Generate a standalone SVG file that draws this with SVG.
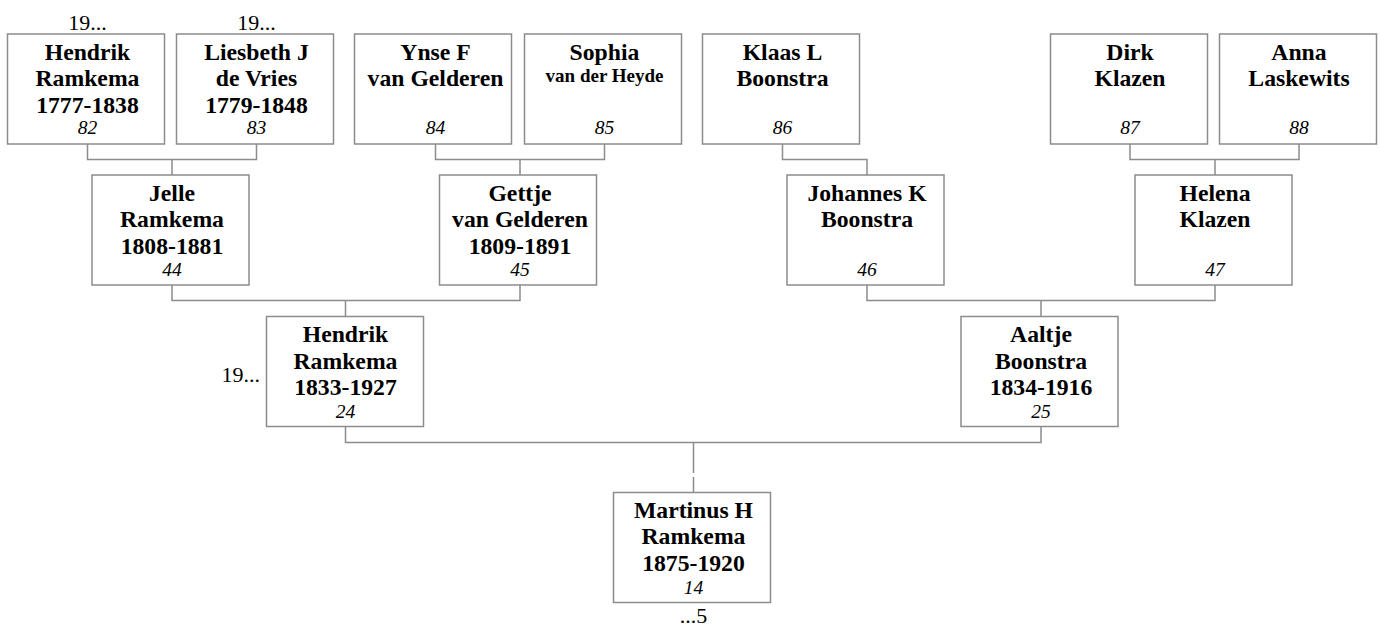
<svg xmlns="http://www.w3.org/2000/svg" width="1380" height="628" viewBox="0 0 1380 628">
<style>
.b{fill:#fff;stroke:#8c8c8c;stroke-width:1.5}
.n{font-family:"Liberation Serif","Times New Roman",serif;font-weight:bold;font-size:23.7px;text-anchor:middle;fill:#000}
.s{font-family:"Liberation Serif","Times New Roman",serif;font-weight:bold;font-size:19px;text-anchor:middle;fill:#000}
.i{font-family:"Liberation Serif","Times New Roman",serif;font-style:italic;font-size:19.5px;text-anchor:middle;fill:#000}
.r{font-family:"Liberation Serif","Times New Roman",serif;font-size:22px;text-anchor:middle;fill:#000}
.c{fill:none;stroke:#8c8c8c;stroke-width:1.5}
</style>
<rect width="1380" height="628" fill="#fff"/>
<g id="connectors">
<path class="c" d="M87.5 144V159.5H256.5V144M172 159.5V175"/>
<path class="c" d="M435.5 144V159.5H604.5V144M520 159.5V175"/>
<path class="c" d="M782.5 144V159.5H867V175"/>
<path class="c" d="M1130 144V159.5H1299V144M1215 159.5V175"/>
<path class="c" d="M172 285V300.5H520V285M345.5 300.5V316.5"/>
<path class="c" d="M867 285V300.5H1215V285M1041 300.5V316.5"/>
<path class="c" d="M345.5 426.5V442.5H1041V426.5M693.5 442.5V473M693.5 477V492.5"/>
</g>
<g id="p82">
<text class="r" x="87.5" y="30">19...</text>
<rect class="b" x="7.5" y="34" width="157" height="110"/>
<text class="n" x="87.5" y="59.5">Hendrik</text>
<text class="n" x="87.5" y="86">Ramkema</text>
<text class="n" x="87.5" y="112.5">1777-1838</text>
<text class="i" x="87.5" y="134">82</text>
</g>
<g id="p83">
<text class="r" x="256.5" y="30">19...</text>
<rect class="b" x="176.5" y="34" width="157" height="110"/>
<text class="n" x="256.5" y="59.5">Liesbeth J</text>
<text class="n" x="256.5" y="86">de Vries</text>
<text class="n" x="256.5" y="112.5">1779-1848</text>
<text class="i" x="256.5" y="134">83</text>
</g>
<g id="p84">
<rect class="b" x="354.5" y="34" width="157" height="110"/>
<text class="n" x="435.5" y="59.5">Ynse F</text>
<text class="n" x="435.5" y="86">van Gelderen</text>
<text class="i" x="435.5" y="134">84</text>
</g>
<g id="p85">
<rect class="b" x="524.5" y="34" width="157" height="110"/>
<text class="n" x="604.5" y="59.5">Sophia</text>
<text class="s" x="604.5" y="82">van der Heyde</text>
<text class="i" x="604.5" y="134">85</text>
</g>
<g id="p86">
<rect class="b" x="702.5" y="34" width="157" height="110"/>
<text class="n" x="782.5" y="59.5">Klaas L</text>
<text class="n" x="782.5" y="86">Boonstra</text>
<text class="i" x="782.5" y="134">86</text>
</g>
<g id="p87">
<rect class="b" x="1050.5" y="34" width="157" height="110"/>
<text class="n" x="1130" y="59.5">Dirk</text>
<text class="n" x="1130" y="86">Klazen</text>
<text class="i" x="1130" y="134">87</text>
</g>
<g id="p88">
<rect class="b" x="1219.5" y="34" width="157" height="110"/>
<text class="n" x="1299" y="59.5">Anna</text>
<text class="n" x="1299" y="86">Laskewits</text>
<text class="i" x="1299" y="134">88</text>
</g>
<g id="p44">
<rect class="b" x="92" y="175" width="157" height="110"/>
<text class="n" x="172" y="200.5">Jelle</text>
<text class="n" x="172" y="227">Ramkema</text>
<text class="n" x="172" y="253.5">1808-1881</text>
<text class="i" x="172" y="276">44</text>
</g>
<g id="p45">
<rect class="b" x="439.5" y="175" width="157" height="110"/>
<text class="n" x="520" y="200.5">Gettje</text>
<text class="n" x="520" y="227">van Gelderen</text>
<text class="n" x="520" y="253.5">1809-1891</text>
<text class="i" x="520" y="276">45</text>
</g>
<g id="p46">
<rect class="b" x="787" y="175" width="157" height="110"/>
<text class="n" x="867" y="200.5">Johannes K</text>
<text class="n" x="867" y="227">Boonstra</text>
<text class="i" x="867" y="276">46</text>
</g>
<g id="p47">
<rect class="b" x="1135" y="175" width="157" height="110"/>
<text class="n" x="1215" y="200.5">Helena</text>
<text class="n" x="1215" y="227">Klazen</text>
<text class="i" x="1215" y="276">47</text>
</g>
<g id="p24">
<text class="r" x="260" y="381.5" style="text-anchor:end">19...</text>
<rect class="b" x="266.5" y="316.5" width="157" height="110"/>
<text class="n" x="345.5" y="342">Hendrik</text>
<text class="n" x="345.5" y="368.5">Ramkema</text>
<text class="n" x="345.5" y="395">1833-1927</text>
<text class="i" x="345.5" y="417.5">24</text>
</g>
<g id="p25">
<rect class="b" x="961" y="316.5" width="157" height="110"/>
<text class="n" x="1041" y="342">Aaltje</text>
<text class="n" x="1041" y="368.5">Boonstra</text>
<text class="n" x="1041" y="395">1834-1916</text>
<text class="i" x="1041" y="417.5">25</text>
</g>
<g id="p14">
<rect class="b" x="613.5" y="492.5" width="157" height="110"/>
<text class="n" x="693.5" y="517.5">Martinus H</text>
<text class="n" x="693.5" y="544">Ramkema</text>
<text class="n" x="693.5" y="570.5">1875-1920</text>
<text class="i" x="693.5" y="593.5">14</text>
<text class="r" x="693.5" y="623">...5</text>
</g>
</svg>
